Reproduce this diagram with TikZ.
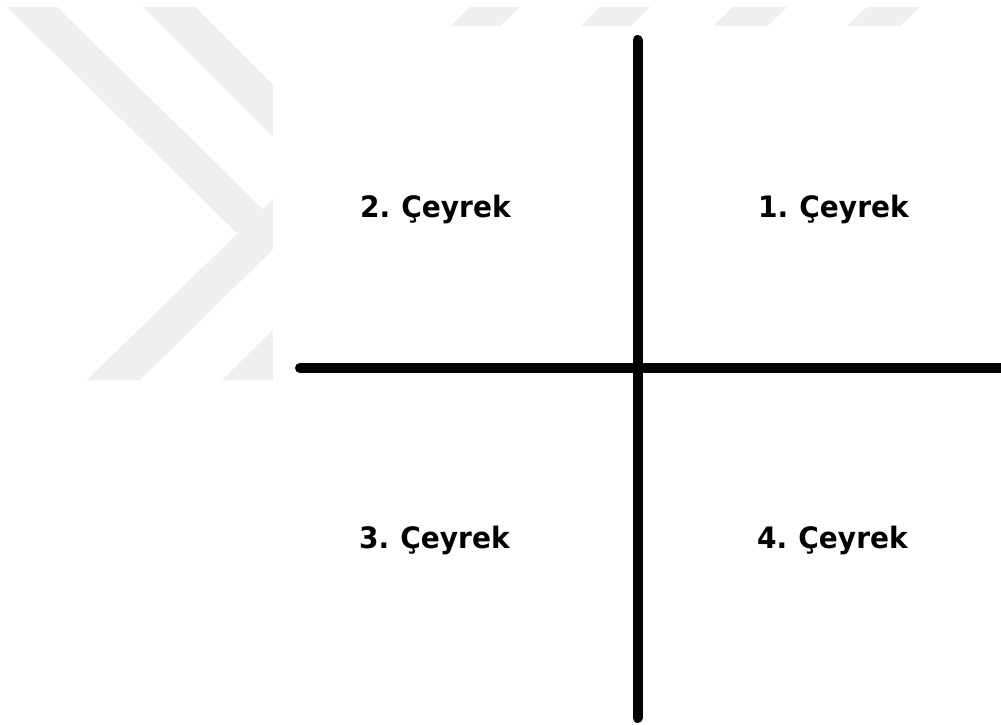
\documentclass[tikz,border=0pt]{standalone}
\usepackage{fontspec}
\newfontfamily\lblfont[FakeStretch=0.95,WordSpace=0.8]{DejaVu Sans}
\definecolor{wm}{RGB}{239,239,239}
\tikzset{
  axisline/.style={line width=10pt, line cap=round, draw=black},
  lbl/.style={font=\lblfont\bfseries\fontsize{29.5}{32}\selectfont, inner sep=0pt, anchor=base west, text=black},
  wmark/.style={fill=wm, draw=none}
}
\begin{document}
\begin{tikzpicture}[x=1pt,y=-1pt]
\useasboundingbox (0,0) rectangle (1001,725);
\fill[white] (0,0) rectangle (1001,725);
% watermark
\begin{scope}
\clip (0,7) rectangle (1001,380);
\fill[wmark] (7,7) -- (57,7) -- (287,233) -- (237,233) -- cycle;
\fill[wmark] (87,380) -- (140,380) -- (520,7) -- (470,7) -- cycle;
\fill[wmark] (143,7) -- (195,7) -- (422,234) -- (370,234) -- cycle;
\fill[wmark] (222,380) -- (274,380) -- (650,7) -- (600,7) -- cycle;
\fill[wmark] (353,380) -- (407,380) -- (787,7) -- (733,7) -- cycle;
\fill[wmark] (487,380) -- (540,380) -- (920,7) -- (867,7) -- cycle;
\end{scope}
\fill[white] (273,26) rectangle (1001,725);
% axes
\coordinate (vtop) at (637.5,40);
\coordinate (vbot) at (637.5,718);
\coordinate (hleft) at (300,368);
\coordinate (hright) at (1001,368);
\draw[axisline] (vtop) -- (vbot);
\draw[axisline] (hleft) -- (hright);
% labels
\node[lbl] (q2) at (360,217) {2. Çeyrek};
\node[lbl] (q1) at (758,217) {1. Çeyrek};
\node[lbl] (q3) at (359,548) {3. Çeyrek};
\node[lbl] (q4) at (757,548) {4. Çeyrek};
\end{tikzpicture}
\end{document}
